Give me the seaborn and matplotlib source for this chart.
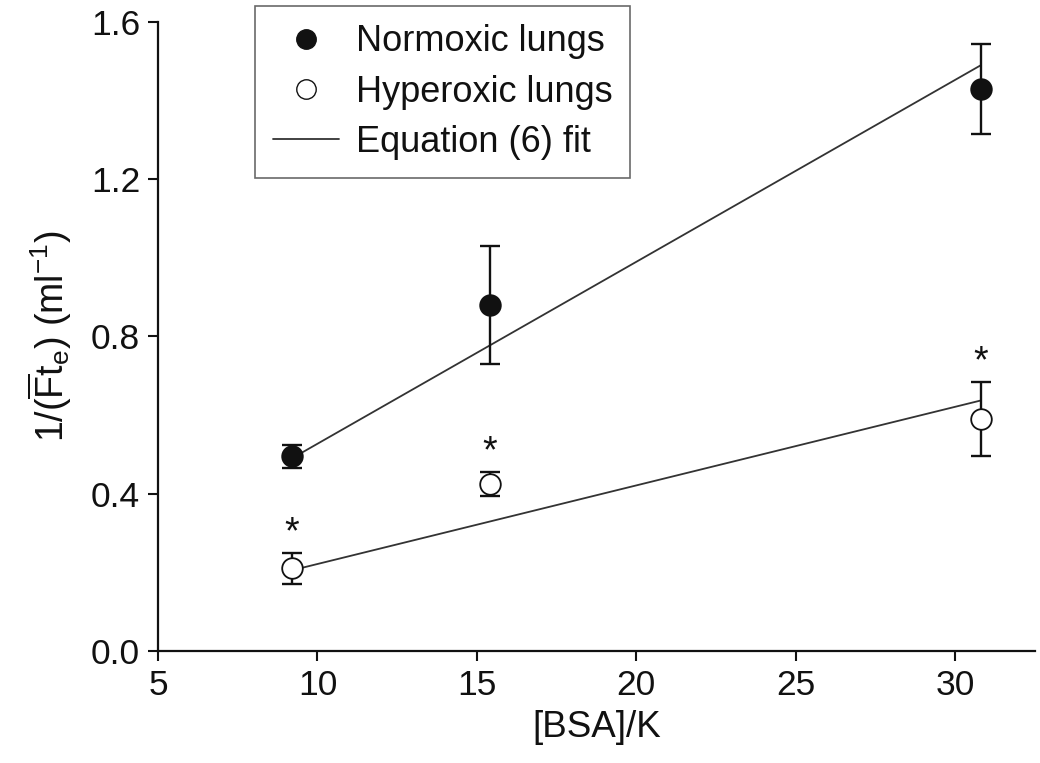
import matplotlib
matplotlib.use("Agg")
import matplotlib.pyplot as plt
import seaborn as sns
import pandas as pd
from matplotlib.lines import Line2D

# ---- data ----
bsa_k = [9.2, 15.4, 30.8]
normoxic_mean = [0.495, 0.88, 1.43]
normoxic_err = [0.03, 0.15, 0.115]
hyperoxic_mean = [0.21, 0.425, 0.59]
hyperoxic_err = [0.04, 0.03, 0.095]
fit_x = [9.2, 30.8]
normoxic_fit = [0.49, 1.49]
hyperoxic_fit = [0.205, 0.637]
x_ticks = [5, 10, 15, 20, 25, 30]
y_ticks = [0.0, 0.4, 0.8, 1.2, 1.6]

sns.set_style("ticks")
plt.rcParams['font.family'] = ['Liberation Sans', 'DejaVu Sans']
plt.rcParams['mathtext.fontset'] = 'custom'
plt.rcParams['mathtext.rm'] = 'Liberation Sans'
plt.rcParams['mathtext.it'] = 'Liberation Sans:italic'
plt.rcParams['text.color'] = '#111111'
plt.rcParams['axes.labelcolor'] = '#111111'
plt.rcParams['xtick.color'] = '#111111'
plt.rcParams['ytick.color'] = '#111111'

fig = plt.figure(figsize=(10.4, 7.63), dpi=100)
ax = fig.add_axes([0.152, 0.147, 0.843, 0.824])

fit_df = pd.DataFrame({
    "x": fit_x * 2,
    "y": normoxic_fit + hyperoxic_fit,
    "group": ["Normoxic"] * 2 + ["Hyperoxic"] * 2,
})
sns.lineplot(data=fit_df, x="x", y="y", units="group", estimator=None,
             color="#333333", linewidth=1.3, ax=ax, legend=False, zorder=2)

ax.errorbar(bsa_k, normoxic_mean, yerr=normoxic_err, fmt="none",
            ecolor="#111111", elinewidth=1.7, capsize=7.5, capthick=1.7, zorder=3)
ax.errorbar(bsa_k, hyperoxic_mean, yerr=hyperoxic_err, fmt="none",
            ecolor="#111111", elinewidth=1.7, capsize=7.5, capthick=1.7, zorder=3)

pts = pd.DataFrame({
    "x": bsa_k * 2,
    "y": normoxic_mean + hyperoxic_mean,
    "group": ["Normoxic lungs"] * 3 + ["Hyperoxic lungs"] * 3,
})
sns.scatterplot(data=pts[pts.group == "Normoxic lungs"], x="x", y="y",
                color="#111111", edgecolor="#111111", s=220, linewidth=1.3,
                ax=ax, legend=False, zorder=4)
sns.scatterplot(data=pts[pts.group == "Hyperoxic lungs"], x="x", y="y",
                color="white", edgecolor="#111111", s=220, linewidth=1.3,
                ax=ax, legend=False, zorder=4)

for xv, m, e in zip(bsa_k, hyperoxic_mean, hyperoxic_err):
    ax.annotate("*", xy=(xv, m + e), xytext=(0, 1), textcoords="offset points",
                ha="center", va="bottom", fontsize=27)

ax.set_xlim(5, 32.5)
ax.set_ylim(0, 1.6)
ax.set_xticks(x_ticks)
ax.set_yticks(y_ticks)
ax.set_yticklabels([f"{v:.1f}" for v in y_ticks])
ax.tick_params(axis="both", labelsize=25.5, width=1.5, length=7, direction="out",
               pad=6)
for side in ["top", "right"]:
    ax.spines[side].set_visible(False)
for side in ["left", "bottom"]:
    ax.spines[side].set_linewidth(1.6)
    ax.spines[side].set_color("#111111")

ax.set_xlabel("[BSA]/K", fontsize=26.5, labelpad=6)
ax.set_ylabel(r"1/($\overline{\mathrm{F}}$t$_\mathrm{e}$) (ml$^{-1}$)",
              fontsize=27, labelpad=12)

handles = [
    Line2D([], [], marker="o", linestyle="none", markerfacecolor="#111111",
           markeredgecolor="#111111", markersize=14),
    Line2D([], [], marker="o", linestyle="none", markerfacecolor="white",
           markeredgecolor="#111111", markersize=14, markeredgewidth=1.0),
    Line2D([], [], color="#333333", linewidth=1.3),
]
leg = ax.legend(handles, ["Normoxic lungs", "Hyperoxic lungs", "Equation (6) fit"],
                loc="upper left", bbox_to_anchor=(0.11, 1.025), fontsize=26,
                frameon=True, fancybox=False, edgecolor="#444444",
                handlelength=1.85, handletextpad=0.45, borderpad=0.5,
                labelspacing=0.42, borderaxespad=0)
leg.get_frame().set_linewidth(1.2)

fig.savefig("out.png", dpi=100)
